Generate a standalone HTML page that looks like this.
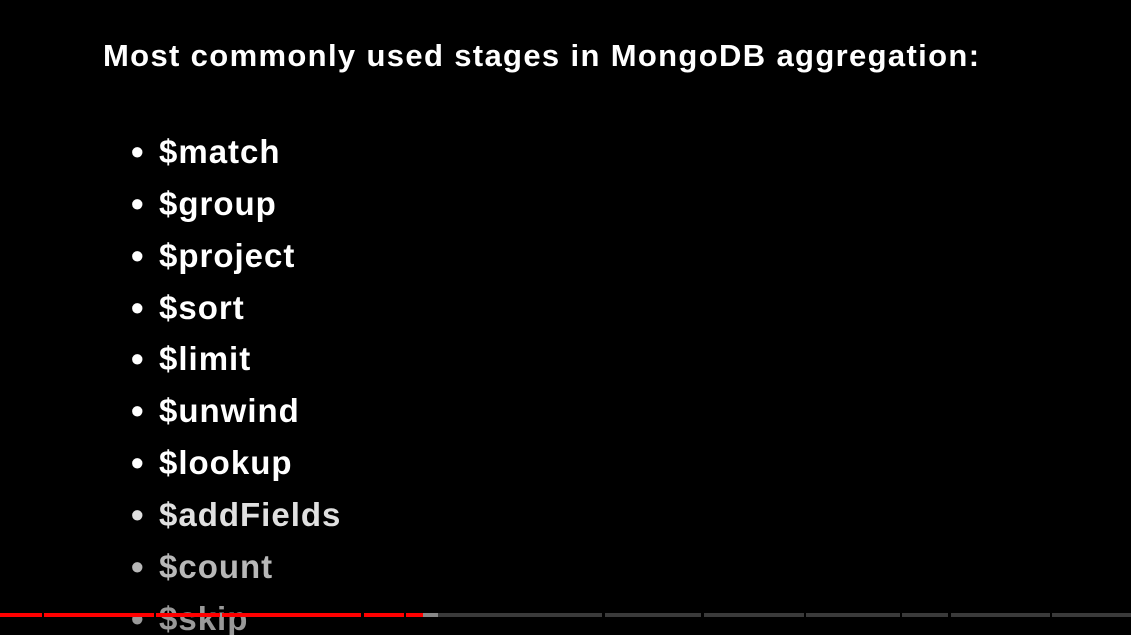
<!DOCTYPE html>
<html><head><meta charset="utf-8"><style>
html,body{margin:0;padding:0;background:#000;width:1131px;height:635px;overflow:hidden;position:relative;font-family:"Liberation Sans",sans-serif;font-weight:bold;color:#fff}
.t{position:absolute;left:103px;top:38px;font-size:31px;white-space:nowrap;letter-spacing:1.35px}
.li{position:absolute;left:131px;font-size:33px;white-space:nowrap;line-height:40px;letter-spacing:1px}
.li span{display:inline-block;width:28px;font-size:36px;vertical-align:-1px;letter-spacing:0}
.bar{position:absolute;top:613px;height:4px}
</style></head><body>
<div class="t">Most commonly used stages in MongoDB aggregation:</div>
<div class="li" style="top:132px"><span>•</span>$match</div>
<div class="li" style="top:184px"><span>•</span>$group</div>
<div class="li" style="top:236px"><span>•</span>$project</div>
<div class="li" style="top:288px"><span>•</span>$sort</div>
<div class="li" style="top:339px"><span>•</span>$limit</div>
<div class="li" style="top:391px"><span>•</span>$unwind</div>
<div class="li" style="top:443px"><span>•</span>$lookup</div>
<div class="li" style="top:495px;color:#e0e0e0"><span>•</span>$addFields</div>
<div class="li" style="top:547px;color:#b8b8b8"><span>•</span>$count</div>
<div class="li" style="top:599px;color:#999"><span>•</span>$skip</div>
<div class="bar" style="left:0;width:42px;background:#f00"></div>
<div class="bar" style="left:44px;width:110px;background:#f00"></div>
<div class="bar" style="left:156px;width:64px;background:#f00"></div>
<div class="bar" style="left:222px;width:139px;background:#f00"></div>
<div class="bar" style="left:364px;width:40px;background:#f00"></div>
<div class="bar" style="left:406px;width:17px;background:#f00"></div>
<div class="bar" style="left:423px;width:15px;background:#888"></div>
<div class="bar" style="left:438px;width:164px;background:#3a3a3a"></div>
<div class="bar" style="left:605px;width:96px;background:#3a3a3a"></div>
<div class="bar" style="left:704px;width:100px;background:#3a3a3a"></div>
<div class="bar" style="left:806px;width:94px;background:#3a3a3a"></div>
<div class="bar" style="left:902px;width:46px;background:#3a3a3a"></div>
<div class="bar" style="left:951px;width:99px;background:#3a3a3a"></div>
<div class="bar" style="left:1052px;width:79px;background:#3a3a3a"></div>
</body></html>
